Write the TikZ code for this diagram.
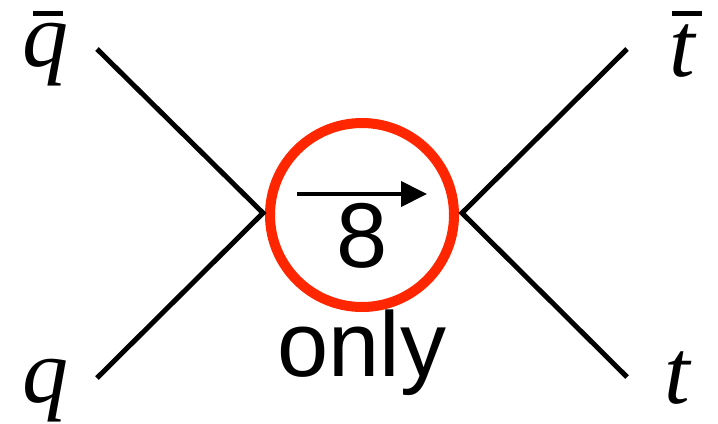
\documentclass[tikz,border=0pt]{standalone}
\usepackage{fontspec}
\newfontfamily\timesit{Liberation Serif}[UprightFont={* Italic}]
\newfontfamily\arialf{Liberation Sans}
\usetikzlibrary{arrows.meta}
\definecolor{ringred}{RGB}{255,38,0}
\newcommand{\ovbar}[3]{\rlap{\hspace*{#1}\raisebox{#2}{\rule{30bp}{5bp}}}#3}
\begin{document}
\begin{tikzpicture}[x=1bp,y=-1bp,
  leg/.style={line width=5bp, black},
  lab/.style={anchor=base west, inner sep=0pt, font=\fontsize{92bp}{92bp}\selectfont\timesit},
  sanslab/.style={anchor=base, inner sep=0pt, font=\fontsize{92bp}{92bp}\selectfont\arialf},
  ring/.style={circle, draw=ringred, line width=10bp, minimum size=184bp, inner sep=0pt}]
\useasboundingbox (0,0) rectangle (718,423);
\node[ring] (vtx) at (362,215) {};
\coordinate (L) at (263,213);
\coordinate (R) at (462,213);
\coordinate (qbarend) at (97,49);
\coordinate (qend) at (97,378);
\coordinate (tbarend) at (627,49);
\coordinate (tend) at (627,377);
\draw[leg] (qbarend) -- (L) -- (qend);
\draw[leg] (tbarend) -- (R) -- (tend);
\node[lab] (qbar) at (22,66) {\ovbar{11bp}{50bp}{q}};
\node[lab] (q) at (22,402) {q};
\node[lab] (tbar) at (669,76) {\ovbar{3bp}{60bp}{t}};
\node[lab] (t) at (664,403) {t};
\coordinate (as) at (297,194);
\coordinate (ae) at (427,194);
\draw[line width=4bp, -{Triangle[length=26bp,width=25bp]}] (as) -- (ae);
\node[sanslab] (eight) at (362,267) {8};
\node[sanslab] (only) at (362,376) {only};
\end{tikzpicture}
\end{document}
